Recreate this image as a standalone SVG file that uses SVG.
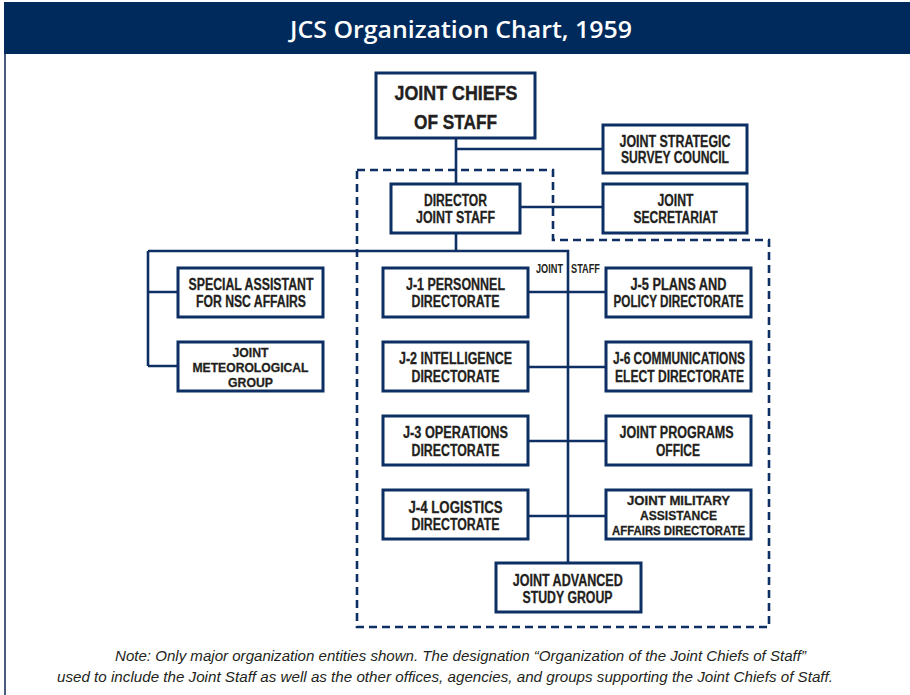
<svg xmlns="http://www.w3.org/2000/svg" width="910" height="695" viewBox="0 0 910 695">
<style>
.box{fill:#fff;stroke:#0d2f63;stroke-width:3}
.ln{fill:none;stroke:#0d2f63;stroke-width:2.6}
.dash{fill:none;stroke:#0d2f63;stroke-width:2.6;stroke-dasharray:8 5}
.t{font-family:"Liberation Sans",Arial,sans-serif;font-weight:bold;font-size:16px;fill:#231f20;stroke:#231f20;stroke-width:0.3;text-anchor:middle}
.big{font-size:21px;stroke-width:0.4}
.sm{font-size:13.4px}
.lbl{font-family:"Liberation Sans",Arial,sans-serif;font-weight:bold;font-size:12px;fill:#231f20}
.note{font-family:"Liberation Sans",Arial,sans-serif;font-style:italic;font-size:14px;fill:#231f20}
</style>
<rect x="0" y="0" width="910" height="695" fill="#fff"/>
<rect x="4" y="2" width="906" height="52" fill="#002a5c"/>
<line x1="5" y1="54" x2="5" y2="695" stroke="#4a5c7c" stroke-width="2"/>
<text x="290" y="38" font-family="'Open Sans','Liberation Sans',sans-serif" font-weight="600" font-size="24" fill="#fff" textLength="342" lengthAdjust="spacingAndGlyphs">JCS Organization Chart, 1959</text>

<g id="connectors">
<path class="dash" d="M357,170 H553 V240 H769 V627 H357 Z"/>
<path class="ln" d="M456,138 V184 M456,149 H603 M520,207 H603 M456,233 V251 M148,251 H568 V563 M148,251 V366 M148,292 H178 M148,366 H178 M528,292 H606 M528,367 H606 M528,441 H606 M528,516 H606"/>
</g>
<text class="lbl" x="536" y="272.5" textLength="27" lengthAdjust="spacingAndGlyphs">JOINT</text>
<text class="lbl" x="571" y="272.5" textLength="29" lengthAdjust="spacingAndGlyphs">STAFF</text>

<g id="jcs"><rect class="box" x="376" y="73" width="159" height="65"/>
<text class="t big" x="456" y="100" textLength="123" lengthAdjust="spacingAndGlyphs">JOINT CHIEFS</text>
<text class="t big" x="455.5" y="128.5" textLength="83" lengthAdjust="spacingAndGlyphs">OF STAFF</text></g>

<g id="jssc"><rect class="box" x="603" y="125" width="144" height="48"/>
<text class="t" x="675" y="147.3" textLength="111" lengthAdjust="spacingAndGlyphs">JOINT STRATEGIC</text>
<text class="t" x="675" y="163.3" textLength="108" lengthAdjust="spacingAndGlyphs">SURVEY COUNCIL</text></g>

<g id="director"><rect class="box" x="391" y="184" width="129" height="49"/>
<text class="t" x="455.5" y="205.7" textLength="63" lengthAdjust="spacingAndGlyphs">DIRECTOR</text>
<text class="t" x="455.5" y="223.3" textLength="79" lengthAdjust="spacingAndGlyphs">JOINT STAFF</text></g>

<g id="secretariat"><rect class="box" x="603" y="184" width="144" height="49"/>
<text class="t" x="675.5" y="205.7" textLength="36" lengthAdjust="spacingAndGlyphs">JOINT</text>
<text class="t" x="675.5" y="223.3" textLength="84" lengthAdjust="spacingAndGlyphs">SECRETARIAT</text></g>

<g id="special"><rect class="box" x="178" y="268" width="145" height="49"/>
<text class="t" x="251" y="290" textLength="125" lengthAdjust="spacingAndGlyphs">SPECIAL ASSISTANT</text>
<text class="t" x="251" y="307.3" textLength="110" lengthAdjust="spacingAndGlyphs">FOR NSC AFFAIRS</text></g>

<g id="meteo"><rect class="box" x="178" y="342" width="145" height="49"/>
<text class="t sm" x="250.5" y="357" textLength="36" lengthAdjust="spacingAndGlyphs">JOINT</text>
<text class="t sm" x="250.5" y="372" textLength="116" lengthAdjust="spacingAndGlyphs">METEOROLOGICAL</text>
<text class="t sm" x="250.5" y="387" textLength="45" lengthAdjust="spacingAndGlyphs">GROUP</text></g>

<g id="j1"><rect class="box" x="383" y="268" width="145" height="49"/>
<text class="t" x="455.5" y="290" textLength="99" lengthAdjust="spacingAndGlyphs">J-1 PERSONNEL</text>
<text class="t" x="455.5" y="307.3" textLength="88" lengthAdjust="spacingAndGlyphs">DIRECTORATE</text></g>

<g id="j2"><rect class="box" x="383" y="342" width="145" height="49"/>
<text class="t" x="455.5" y="364" textLength="113" lengthAdjust="spacingAndGlyphs">J-2 INTELLIGENCE</text>
<text class="t" x="455.5" y="381.7" textLength="88" lengthAdjust="spacingAndGlyphs">DIRECTORATE</text></g>

<g id="j3"><rect class="box" x="383" y="416" width="145" height="49"/>
<text class="t" x="455.5" y="438.3" textLength="105" lengthAdjust="spacingAndGlyphs">J-3 OPERATIONS</text>
<text class="t" x="455.5" y="456" textLength="88" lengthAdjust="spacingAndGlyphs">DIRECTORATE</text></g>

<g id="j4"><rect class="box" x="383" y="490" width="145" height="49"/>
<text class="t" x="455.5" y="512.7" textLength="94" lengthAdjust="spacingAndGlyphs">J-4 LOGISTICS</text>
<text class="t" x="455.5" y="530" textLength="88" lengthAdjust="spacingAndGlyphs">DIRECTORATE</text></g>

<g id="j5"><rect class="box" x="606" y="268" width="145" height="49"/>
<text class="t" x="678.5" y="290" textLength="96" lengthAdjust="spacingAndGlyphs">J-5 PLANS AND</text>
<text class="t" x="678.5" y="307.3" textLength="130" lengthAdjust="spacingAndGlyphs">POLICY DIRECTORATE</text></g>

<g id="j6"><rect class="box" x="606" y="342" width="145" height="49"/>
<text class="t" x="679" y="364" textLength="132" lengthAdjust="spacingAndGlyphs">J-6 COMMUNICATIONS</text>
<text class="t" x="679.5" y="381.7" textLength="129" lengthAdjust="spacingAndGlyphs">ELECT DIRECTORATE</text></g>

<g id="jpo"><rect class="box" x="606" y="416" width="145" height="49"/>
<text class="t" x="676.5" y="438.3" textLength="114" lengthAdjust="spacingAndGlyphs">JOINT PROGRAMS</text>
<text class="t" x="678" y="456" textLength="44" lengthAdjust="spacingAndGlyphs">OFFICE</text></g>

<g id="jmaad"><rect class="box" x="606" y="490" width="145" height="49"/>
<text class="t sm" x="678.5" y="505" textLength="103" lengthAdjust="spacingAndGlyphs">JOINT MILITARY</text>
<text class="t sm" x="678.5" y="520" textLength="77" lengthAdjust="spacingAndGlyphs">ASSISTANCE</text>
<text class="t sm" x="678.5" y="535" textLength="133" lengthAdjust="spacingAndGlyphs">AFFAIRS DIRECTORATE</text></g>

<g id="jasg"><rect class="box" x="496" y="563" width="145" height="49"/>
<text class="t" x="567.7" y="585.7" textLength="110" lengthAdjust="spacingAndGlyphs">JOINT ADVANCED</text>
<text class="t" x="567.5" y="602.7" textLength="90" lengthAdjust="spacingAndGlyphs">STUDY GROUP</text></g>

<text class="note" x="115" y="661" textLength="691" lengthAdjust="spacingAndGlyphs">Note: Only major organization entities shown. The designation “Organization  of the Joint Chiefs of Staff”</text>
<text class="note" x="57" y="682" textLength="776" lengthAdjust="spacingAndGlyphs">used to include the Joint Staff as well as the other offices, agencies, and groups supporting the Joint Chiefs of Staff.</text>
</svg>
